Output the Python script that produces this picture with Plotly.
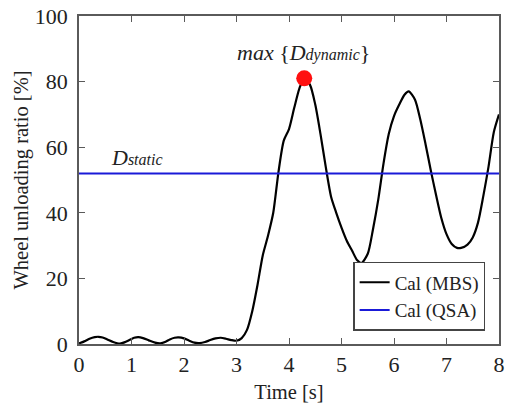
import plotly.graph_objects as go

# Data
time_s = [0, 0.1, 0.2, 0.3, 0.37, 0.45, 0.55, 0.65, 0.78, 0.88, 0.97, 1.05, 1.13, 1.22,
          1.33, 1.45, 1.55, 1.65, 1.73, 1.82, 1.9, 2.0, 2.1, 2.2, 2.3, 2.4, 2.5, 2.6,
          2.7, 2.8, 2.9, 3.0, 3.1, 3.2, 3.3, 3.4, 3.5, 3.6, 3.7, 3.8, 3.9, 4.0, 4.1,
          4.2, 4.29, 4.4, 4.5, 4.6, 4.7, 4.8, 4.9, 5.0, 5.1, 5.2, 5.3, 5.38, 5.5,
          5.6, 5.7, 5.8, 5.9, 6.0, 6.1, 6.2, 6.28, 6.4, 6.5, 6.6, 6.7, 6.8, 6.9,
          7.0, 7.1, 7.2, 7.28, 7.4, 7.5, 7.6, 7.7, 7.8, 7.9, 8.0]
mbs = [0.2, 0.8, 1.6, 2.1, 2.2, 2.0, 1.3, 0.6, 0.1, 0.6, 1.3, 1.9, 2.1, 1.8,
       1.1, 0.4, 0.2, 0.7, 1.4, 1.9, 2.0, 1.7, 1.0, 0.4, 0.3, 0.6, 1.2, 1.7,
       1.9, 1.6, 1.2, 1.0, 1.8, 4.3, 10, 18, 27, 33, 40, 52.5, 62, 65.5, 72,
       78, 81, 79, 73, 64, 54, 45, 40, 35.5, 31.5, 28.5, 25.5, 24.7, 27.5,
       35, 44, 55, 64, 69.5, 73, 76, 77, 74.5, 68.5, 61, 53, 45.5, 38.5,
       33.5, 30.5, 29.3, 29.3, 30.3, 32.5, 37, 45, 54, 64.5, 70]
qsa_time = [0, 8]
qsa = [52, 52]
peak_time = [4.29]
peak_value = [81]

x_ticks = [0, 1, 2, 3, 4, 5, 6, 7, 8]
y_ticks = [0, 20, 40, 60, 80, 100]

FONT = "Liberation Serif, Times New Roman, Times, serif"
AX = "#5a5a5a"
TXT = "#222"

fig = go.Figure()
fig.add_trace(go.Scatter(x=time_s, y=mbs, mode="lines", name="Cal (MBS)",
                         line=dict(color="black", width=2.2, shape="spline", smoothing=0.7)))
fig.add_trace(go.Scatter(x=qsa_time, y=qsa, mode="lines", name="Cal (QSA)",
                         line=dict(color="#1a1ad8", width=2)))
fig.add_trace(go.Scatter(x=peak_time, y=peak_value, mode="markers", showlegend=False,
                         marker=dict(color="#ff1010", size=16)))

axis_common = dict(showline=True, linecolor=AX, linewidth=1.5, mirror="ticks",
                   ticks="inside", ticklen=6, tickwidth=1.2, tickcolor=AX,
                   showgrid=False, zeroline=False, automargin=False,
                   tickfont=dict(family=FONT, size=22, color=TXT))

fig.update_layout(
    width=506, height=410,
    margin=dict(l=79, r=7, t=16, b=66),
    paper_bgcolor="white", plot_bgcolor="white",
    font=dict(family=FONT, color=TXT),
    xaxis=dict(range=[0, 8], tickvals=x_ticks, **axis_common,
               title=dict(text="Time [s]", font=dict(family=FONT, size=20.5, color=TXT), standoff=8)),
    yaxis=dict(range=[0, 100], tickvals=y_ticks, ticklabelstandoff=5, **axis_common,
               title=dict(text="Wheel unloading ratio [%]", font=dict(family=FONT, size=20.5, color=TXT), standoff=1)),
    legend=dict(x=0.967, y=0.04, xanchor="right", yanchor="bottom",
                bgcolor="white", bordercolor="#444", borderwidth=1.5,
                font=dict(family=FONT, size=19, color=TXT), tracegroupgap=0),
    showlegend=True,
)

fig.add_annotation(x=1.105, y=57, xref="x", yref="y", showarrow=False,
                   text="<i>D<span style='font-size:16px'>static</span></i>",
                   font=dict(family=FONT, size=22, color=TXT))
fig.add_annotation(x=4.28, y=89, xref="x", yref="y", showarrow=False,
                   text="<i>max</i> {<i>D<span style='font-size:16px'>dynamic</span></i>}",
                   font=dict(family=FONT, size=22, color=TXT))

fig.write_html("out.html")
